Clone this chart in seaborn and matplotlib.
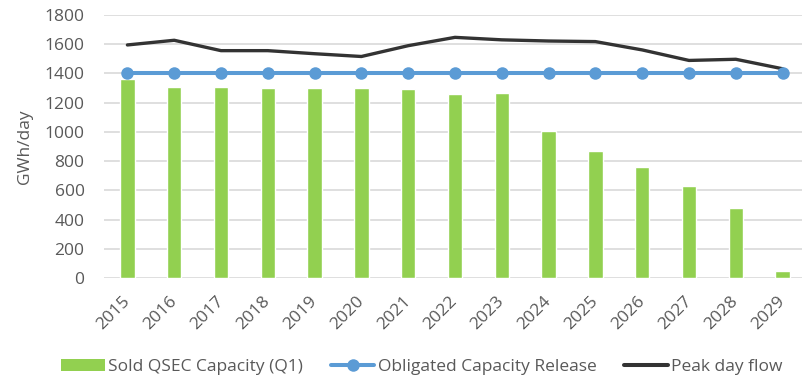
import matplotlib
matplotlib.use("Agg")
import matplotlib.pyplot as plt
from matplotlib.lines import Line2D
from matplotlib.patches import Patch
import seaborn as sns
import pandas as pd

years = [str(y) for y in range(2015, 2030)]
sold_qsec = [1365, 1305, 1305, 1302, 1302, 1300, 1295, 1258, 1263, 1008, 872, 757, 632, 478, 46]
obligated = [1404] * 15
peak_flow = [1595, 1627, 1556, 1556, 1535, 1516, 1590, 1647, 1630, 1622, 1618, 1561, 1489, 1497, 1432]

df = pd.DataFrame({"year": years, "sold": sold_qsec, "oblig": obligated, "peak": peak_flow})

sns.set_theme(style="white")
plt.rcParams["font.family"] = ["Open Sans", "DejaVu Sans"]

green = "#92D050"
blue = "#5B9BD5"
dark = "#333333"
grid = "#D9D9D9"
text_c = "#595959"
fs = 12.5

fig = plt.figure(figsize=(8.03, 3.82), dpi=100)
ax = fig.add_axes([104 / 803, 1 - 278 / 382, 702 / 803, 263 / 382])

sns.barplot(data=df, x="year", y="sold", color=green, width=0.31, ax=ax,
            saturation=1, zorder=2)
sns.lineplot(data=df, x="year", y="peak", color=dark, lw=2.4, sort=False, ax=ax,
             zorder=3, clip_on=False)
sns.lineplot(data=df, x="year", y="oblig", color=blue, lw=2.9, marker="o",
             markersize=9, markeredgewidth=0, sort=False, ax=ax, zorder=4, clip_on=False)

ax.set_xlim(-0.5, 14.5)
ax.set_ylim(0, 1800)
ax.set_yticks(range(0, 1801, 200))
ax.yaxis.grid(True, color=grid, lw=1.2, zorder=0)
ax.set_axisbelow(True)
for s in ax.spines.values():
    s.set_visible(False)
ax.tick_params(axis="y", length=0, pad=14, labelsize=fs, labelcolor=text_c)
ax.tick_params(axis="x", length=0, pad=15, labelsize=fs, labelcolor=text_c)
for lab in ax.get_xticklabels():
    lab.set_rotation(45)
    lab.set_ha("right")
    lab.set_va("center")
    lab.set_rotation_mode("anchor")
ax.set_xlabel("")
ax.set_ylabel("GWh/day", fontsize=fs, color=text_c)
ax.yaxis.set_label_coords((33 - 104) / 702, 0.5)

handles = [
    Patch(facecolor=green, edgecolor="none"),
    Line2D([0], [0], color=blue, lw=2.9, marker="o", markersize=9, markeredgewidth=0),
    Line2D([0], [0], color=dark, lw=2.9),
]
labels = ["Sold QSEC Capacity (Q1)", "Obligated Capacity Release", "Peak day flow"]
fig.legend(handles, labels, loc="center", bbox_to_anchor=(422 / 803, 1 - 367 / 382), ncol=3,
           frameon=False, fontsize=fs, labelcolor=text_c, handlelength=2.5,
           handletextpad=0.2, columnspacing=1.6)

fig.savefig("out.png", dpi=100)
